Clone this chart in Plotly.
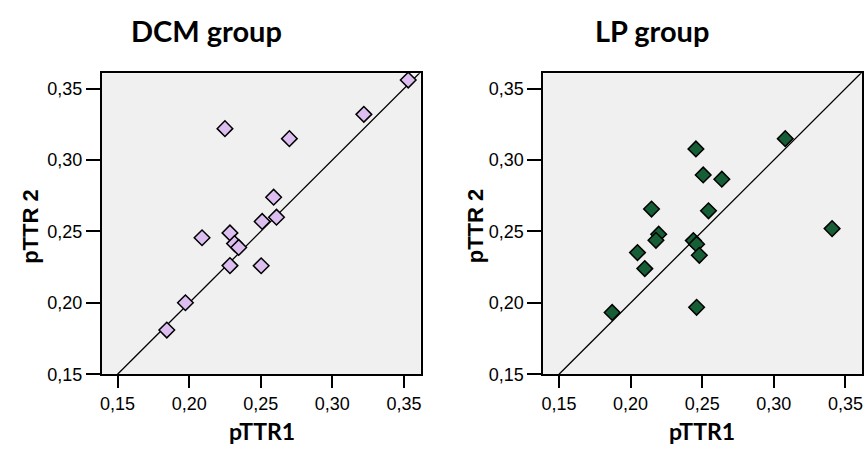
import plotly.graph_objects as go

# DCM group data
dcm_x = [0.353, 0.322, 0.225, 0.270, 0.259, 0.261, 0.251, 0.2285, 0.209, 0.2317, 0.2346, 0.2285, 0.2503, 0.1974, 0.1844]
dcm_y = [0.356, 0.332, 0.322, 0.315, 0.274, 0.260, 0.257, 0.249, 0.2456, 0.2415, 0.2388, 0.2261, 0.226, 0.2001, 0.181]

# LP group data
lp_x = [0.308, 0.2456, 0.2507, 0.2637, 0.2146, 0.2544, 0.3407, 0.2196, 0.2177, 0.2438, 0.2461, 0.2048, 0.248, 0.2099, 0.1871, 0.2461]
lp_y = [0.315, 0.3078, 0.2896, 0.2866, 0.2657, 0.2645, 0.252, 0.2481, 0.2438, 0.2436, 0.2411, 0.2352, 0.2333, 0.224, 0.1933, 0.1969]

# identity line ends
diag = [0.15, 0.37]

tick_vals = [0.15, 0.20, 0.25, 0.30, 0.35]
titles = ["DCM group", "LP group"]
x_title = "pTTR1"
y_title = "pTTR 2"

W, H = 866, 456
def px(x):
    return x / W
def py(y):
    return 1 - y / H

fig = go.Figure()

for i, (xs, ys, col) in enumerate([(dcm_x, dcm_y, "#dcbff0"), (lp_x, lp_y, "#165e35")]):
    xa = "x" if i == 0 else "x2"
    ya = "y" if i == 0 else "y2"
    fig.add_trace(go.Scatter(x=diag, y=diag, mode="lines", line=dict(color="black", width=1.3),
                             xaxis=xa, yaxis=ya, showlegend=False, hoverinfo="skip"))
    fig.add_trace(go.Scatter(x=xs, y=ys, mode="markers",
                             marker=dict(symbol="diamond", size=12, color=col,
                                         line=dict(color="black", width=1.5)),
                             xaxis=xa, yaxis=ya, showlegend=False, cliponaxis=False))

axis_common = dict(showgrid=False, zeroline=False, showline=True, linecolor="black", linewidth=1.5,
                   mirror=True, ticks="outside", tickcolor="black", tickwidth=2,
                   tickvals=tick_vals, tickformat=".2f",
                   tickfont=dict(family="Liberation Sans, Arial", size=18, color="black"))

x_rng = [0.1389, 0.3616]
y_rng = [0.15, 0.3607]
fig.update_layout(
    width=W, height=H, margin=dict(l=0, r=0, t=0, b=0),
    paper_bgcolor="white", plot_bgcolor="#f0f0f0", separators=", ",
    xaxis=dict(domain=[px(100), px(420)], range=x_rng, anchor="y", ticklen=12, **axis_common),
    yaxis=dict(domain=[py(382.7), py(75)], range=y_rng, anchor="x", ticklen=14, **axis_common),
    xaxis2=dict(domain=[px(543), px(863)], range=x_rng, anchor="y2", ticklen=12, **axis_common),
    yaxis2=dict(domain=[py(382.7), py(75)], range=y_rng, anchor="x2", ticklen=14, **axis_common),
)

ann = []
title_font = dict(family="Lato, Open Sans", size=29, color="black")
label_font = dict(family="Lato, Open Sans", size=23, color="black")
ylab_font = dict(family="Liberation Sans, Arial", size=22, color="black")
for cx, txt in zip([205, 652], titles):
    ann.append(dict(x=px(cx), y=py(31), xref="paper", yref="paper", text="<b>%s</b>" % txt,
                    showarrow=False, font=title_font, xanchor="center", yanchor="middle"))
for cx in [261, 702]:
    ann.append(dict(x=px(cx), y=py(441), xref="paper", yref="paper", text="<b>%s</b>" % x_title,
                    showarrow=False, font=label_font, xanchor="center", yanchor="middle"))
for cx in [29, 476]:
    ann.append(dict(x=px(cx), y=py(231), xref="paper", yref="paper", text="<b>%s</b>" % y_title,
                    showarrow=False, font=ylab_font, textangle=-90, xanchor="center", yanchor="middle"))
fig.update_layout(annotations=ann)

fig.write_html("out.html", config={"displayModeBar": False},
               post_script="document.body.style.margin='0';document.body.style.overflow='hidden';")
